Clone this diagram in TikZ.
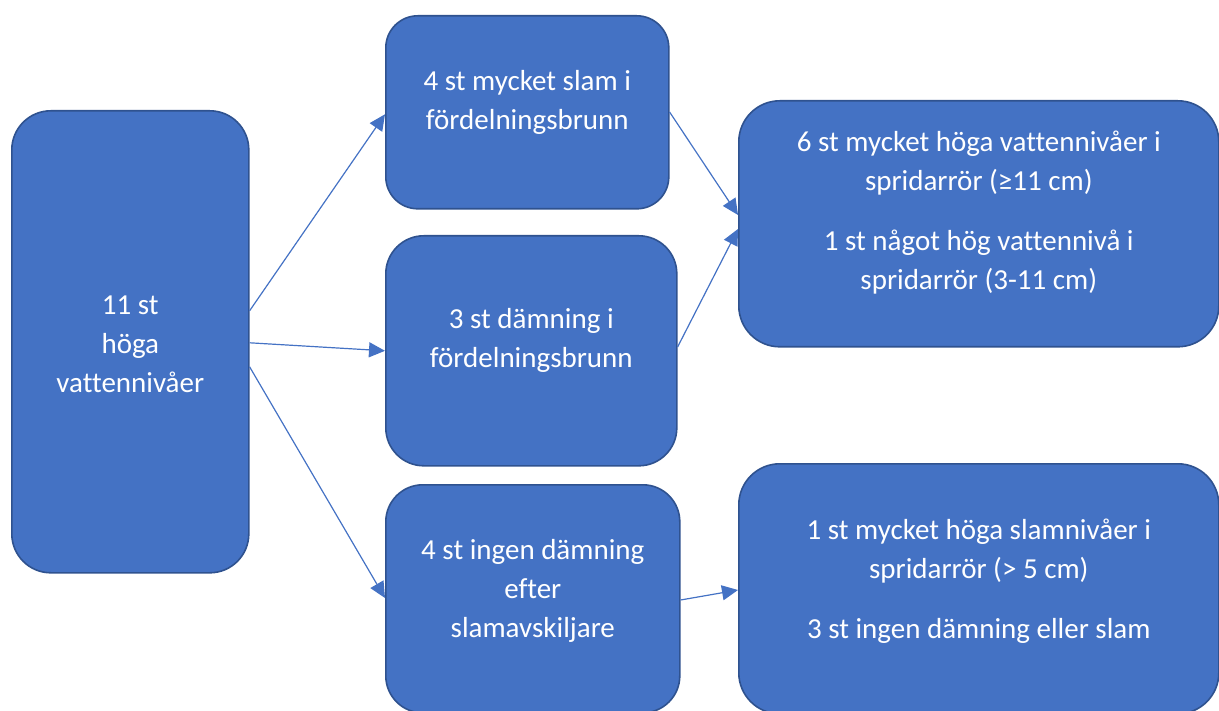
\documentclass[tikz,border=0pt]{standalone}
\usepackage{fontspec}
\setmainfont[Ligatures={NoCommon}]{Carlito}
\usetikzlibrary{arrows.meta}
\definecolor{boxfill}{HTML}{4472C4}
\definecolor{boxline}{HTML}{2F528F}
\definecolor{arrowc}{HTML}{4472C4}
\begin{document}
\begin{tikzpicture}[x=1pt,y=-1pt,
  box/.style={draw=boxline, line width=1.6pt, fill=boxfill, anchor=north west, inner sep=0pt, rectangle},
  txt/.style={text=white, align=center, font=\fontsize{29}{39}\selectfont, inner sep=0pt},
  arr/.style={draw=arrowc, line width=1.2pt, -{Triangle[length=16pt,width=15pt]}}]
\useasboundingbox (0,0) rectangle (1219,711);
% boxes
\node[box, rounded corners=39pt, minimum width=237pt, minimum height=462pt] (A) at (11,110) {};
\node[box, rounded corners=32pt, minimum width=283pt, minimum height=193pt] (B) at (385,15) {};
\node[box, rounded corners=38pt, minimum width=291pt, minimum height=230pt] (C) at (385,235) {};
\node[box, rounded corners=37pt, minimum width=294pt, minimum height=228pt] (D) at (385,484) {};
\node[box, rounded corners=41pt, minimum width=480pt, minimum height=246pt] (E) at (738,100) {};
\node[box, rounded corners=41pt, minimum width=480pt, minimum height=250pt] (F) at (738,463) {};
% texts
\node[txt] (tA) at ([yshift=-2pt]A.center) {11 st\\höga\\vattennivåer};
\node[txt] (tB) at ([yshift=9.5pt]B.center) {4 st mycket slam i\\fördelningsbrunn};
\node[txt] (tC) at ([yshift=10.5pt]C.center) {3 st dämning i\\fördelningsbrunn};
\node[txt] (tD) at ([yshift=7.5pt]D.center) {4 st ingen dämning\\efter\\slamavskiljare};
\node[txt] (tE) at ([yshift=11pt]E.center) {6 st mycket höga vattennivåer i\\spridarrör (≥11 cm)\\[21pt]1 st något hög vattennivå i\\spridarrör (3-11 cm)};
\node[txt] (tF) at ([yshift=7.5pt]F.center) {1 st mycket höga slamnivåer i\\spridarrör (> 5 cm)\\[21pt]3 st ingen dämning eller slam};
% connectors
\draw[arr] ([yshift=31pt]A.east) -- ([yshift=-2pt]B.west);
\draw[arr] ([yshift=-1pt]A.east) -- (C.west);
\draw[arr] ([yshift=-25pt]A.east) -- (D.west |- 0,598);
\draw[arr] (B.east |- 0,112) -- (E.west |- 0,215);
\draw[arr] (C.east |- 0,347) -- (E.west |- 0,229);
\draw[arr] (D.east |- 0,600) -- (F.west |- 0,590);
\end{tikzpicture}
\end{document}
